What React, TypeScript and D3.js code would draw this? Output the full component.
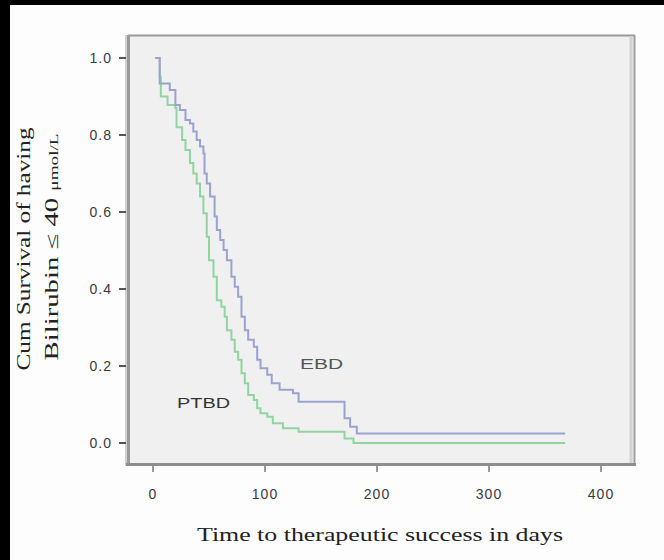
import React from "react";
import * as d3 from "d3";

const ebdTimes = [2, 6, 15, 20, 24, 29, 33, 36, 39, 42, 45, 46, 48, 51, 55, 57, 60, 63, 66, 70, 73, 76, 79, 82, 85, 90, 93, 96, 102, 106, 113, 125, 130, 171, 176, 182, 368];
const ebdSurv = [1.0, 0.934, 0.917, 0.878, 0.865, 0.839, 0.83, 0.809, 0.787, 0.77, 0.752, 0.7, 0.674, 0.64, 0.588, 0.553, 0.527, 0.501, 0.475, 0.432, 0.406, 0.38, 0.328, 0.293, 0.268, 0.25, 0.216, 0.194, 0.177, 0.155, 0.138, 0.129, 0.107, 0.064, 0.042, 0.025, 0.025];
const ptbdTimes = [2, 6, 7, 13, 20, 21, 26, 29, 33, 36, 39, 42, 45, 48, 50, 54, 57, 61, 64, 66, 70, 73, 76, 79, 82, 85, 90, 93, 96, 102, 107, 116, 130, 171, 179, 368];
const ptbdSurv = [1.0, 0.951, 0.9, 0.878, 0.87, 0.82, 0.787, 0.761, 0.727, 0.7, 0.674, 0.64, 0.597, 0.536, 0.475, 0.432, 0.371, 0.354, 0.328, 0.293, 0.268, 0.237, 0.216, 0.181, 0.155, 0.125, 0.112, 0.09, 0.077, 0.068, 0.051, 0.038, 0.029, 0.012, 0.0, 0.0];
const xTicks = [0, 100, 200, 300, 400];
const yTicks = [0, 0.2, 0.4, 0.6, 0.8, 1.0];
const groupLabels = ["EBD", "PTBD"];

export default function App() {
  const x = d3.scaleLinear().domain([0, 400]).range([153, 601]);
  const y = d3.scaleLinear().domain([0, 1]).range([443, 58]);
  const line = d3
    .line<[number, number]>()
    .x((d) => x(d[0]))
    .y((d) => y(d[1]))
    .curve(d3.curveStepAfter);
  const ebd = ebdTimes.map((t, i) => [t, ebdSurv[i]] as [number, number]);
  const ptbd = ptbdTimes.map((t, i) => [t, ptbdSurv[i]] as [number, number]);
  const fmtY = d3.format(".1f");
  const sans = "'Liberation Sans', Arial, sans-serif";
  const serif = "'Liberation Serif', 'Times New Roman', serif";

  return (
    <div style={{ position: "fixed", left: 0, top: 0, width: 664, height: 560, background: "#fff" }}>
      <svg width={664} height={560} style={{ display: "block" }}>
        <rect x={0} y={0} width={664} height={560} fill="#fdfdfd" />
        <rect x={0} y={0} width={664} height={5} fill="#000" />
        <rect x={0} y={0} width={10} height={560} fill="#000" />
        {/* plot area */}
        <rect x={128} y={35} width={507} height={430} fill="#f0f0f0" />
        <line x1={128} x2={635} y1={35.5} y2={35.5} stroke="#9a9a9a" strokeWidth={2} />
        <line x1={631} x2={631} y1={36} y2={464} stroke="#d2d2d2" strokeWidth={3} />
        <line x1={634.5} x2={634.5} y1={35} y2={465} stroke="#a0a0a0" strokeWidth={2} />
        <line x1={126} x2={126} y1={35} y2={466} stroke="#d0d0d0" strokeWidth={2} />
        <line x1={128.5} x2={128.5} y1={35} y2={466} stroke="#9a9a9a" strokeWidth={3} />
        <line x1={126} x2={636} y1={464.5} y2={464.5} stroke="#8e8e8e" strokeWidth={3} />
        {/* y ticks */}
        {yTicks.map((t) => (
          <g key={"y" + t}>
            <line x1={119} x2={126} y1={y(t)} y2={y(t)} stroke="#555" strokeWidth={2} />
            <text x={112} y={y(t)} dy="0.36em" textAnchor="end" fontFamily={sans} fontSize={14} letterSpacing={1} fill="#3a3a3a">
              {fmtY(t)}
            </text>
          </g>
        ))}
        {/* x ticks */}
        {xTicks.map((t) => (
          <g key={"x" + t}>
            <line x1={x(t)} x2={x(t)} y1={466} y2={472} stroke="#999" strokeWidth={2} />
            <text x={x(t)} y={499} textAnchor="middle" fontFamily={sans} fontSize={14} letterSpacing={1} fill="#3a3a3a">
              {t}
            </text>
          </g>
        ))}
        {/* curves */}
        <path d={line(ptbd) || ""} fill="none" stroke="#92d3a2" strokeWidth={2} />
        <path d={line(ebd) || ""} fill="none" stroke="#9aa3cf" strokeWidth={2} />
        {/* group labels */}
        <text x={300} y={369} fontFamily={sans} fontSize={15} fill="#555" textLength={43} lengthAdjust="spacingAndGlyphs">
          {groupLabels[0]}
        </text>
        <text x={177} y={408} fontFamily={sans} fontSize={15} fill="#333" textLength={53} lengthAdjust="spacingAndGlyphs">
          {groupLabels[1]}
        </text>
        {/* axis titles */}
        <text x={380} y={541} textAnchor="middle" fontFamily={serif} fontSize={18} fill="#222" textLength={366} lengthAdjust="spacingAndGlyphs">
          Time to therapeutic success in days
        </text>
        <text transform="translate(30,249) rotate(-90)" textAnchor="middle" fontFamily={serif} fontSize={18} fill="#222" textLength={243} lengthAdjust="spacingAndGlyphs">
          Cum Survival of having
        </text>
        <text transform="translate(58,247) rotate(-90)" textAnchor="middle" fontFamily={serif} fontSize={18} fill="#222" textLength={227} lengthAdjust="spacingAndGlyphs">
          Bilirubin ≤ 40 <tspan fontSize={12}>μmol/L</tspan>
        </text>
      </svg>
    </div>
  );
}
